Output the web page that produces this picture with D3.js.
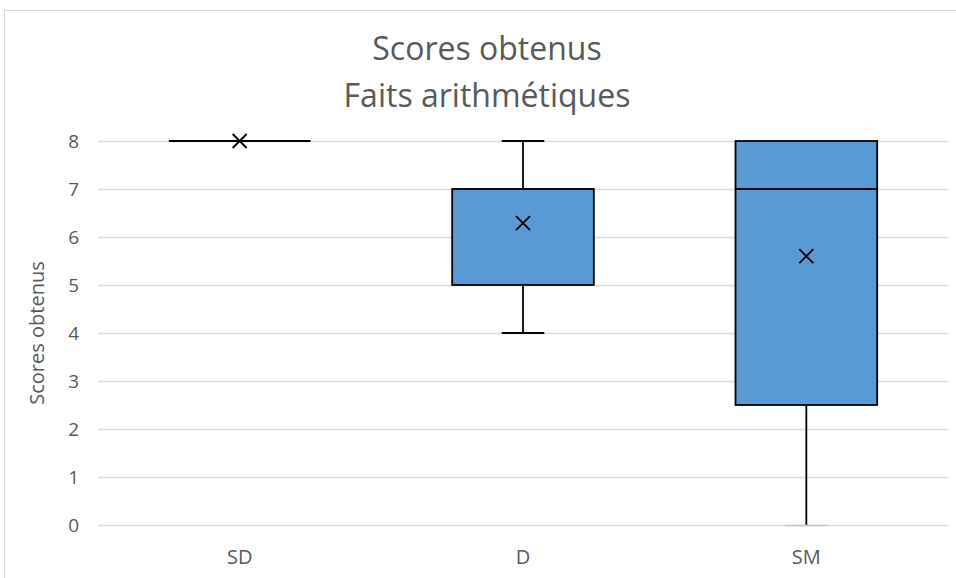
<!DOCTYPE html>
<html><head><meta charset="utf-8">
<script src="https://cdn.jsdelivr.net/npm/d3@7"></script>
<style>body{margin:0;background:#fff}svg{display:block}</style>
</head><body>
<script>
const categories = ["SD", "D", "SM"];
const minVals = [8, 4, 0];
const q1Vals = [8, 5, 2.5];
const medianVals = [8, 7, 7];
const q3Vals = [8, 7, 8];
const maxVals = [8, 8, 8];
const meanVals = [8, 6.29, 5.6];
const yTicks = [0, 1, 2, 3, 4, 5, 6, 7, 8];
const titleLines = ["Scores obtenus", "Faits arithmétiques"];
const yTitle = "Scores obtenus";

const W = 956, H = 578;
const svg = d3.select("body").append("svg").attr("width", W).attr("height", H);
const font = "'Open Sans', sans-serif";
const textCol = "#595959";

svg.append("rect").attr("x", 4.5).attr("y", 10.5).attr("width", 1000).attr("height", 600)
  .attr("fill", "#fff").attr("stroke", "#d9d9d9");

const x = d3.scaleBand().domain(categories).range([98, 948]);
const y = d3.scaleLinear().domain([0, 8]).range([525, 141]);

// gridlines
svg.append("g").selectAll("line").data(yTicks).join("line")
  .attr("x1", 98).attr("x2", 948)
  .attr("y1", d => y(d) + 0.5).attr("y2", d => y(d) + 0.5)
  .attr("stroke", "#d9d9d9").attr("stroke-width", 1.3);

// y axis labels
const yAxis = svg.append("g").attr("transform", "translate(98,0)")
  .call(d3.axisLeft(y).tickValues(yTicks).tickSize(0).tickPadding(19).tickFormat(d3.format("d")));
yAxis.select(".domain").remove();
yAxis.selectAll("text").attr("font-family", font).attr("font-size", 19).attr("fill", textCol);

// x axis labels
const xAxis = svg.append("g").attr("transform", "translate(0,525)")
  .call(d3.axisBottom(x).tickSize(0).tickPadding(25));
xAxis.select(".domain").remove();
xAxis.selectAll("text").attr("font-family", font).attr("font-size", 20).attr("fill", textCol);

// titles
svg.append("g").selectAll("text").data(titleLines).join("text")
  .attr("x", 487).attr("y", (d, i) => 60 + i * 47)
  .attr("text-anchor", "middle").attr("font-family", font).attr("font-size", 32)
  .attr("fill", textCol).text(d => d);

svg.append("text").attr("transform", "translate(44,333) rotate(-90)")
  .attr("text-anchor", "middle").attr("font-family", font).attr("font-size", 20)
  .attr("fill", textCol).text(yTitle);

// boxes
const bw = x.bandwidth();
const boxW = bw * 0.5, capW = bw * 0.15;
const sw = 1.8;
const data = categories.map((c, i) => ({c, min: minVals[i], q1: q1Vals[i], med: medianVals[i], q3: q3Vals[i], max: maxVals[i], mean: meanVals[i]}));
const g = svg.append("g").selectAll("g").data(data).join("g");
const cx = d => x(d.c) + bw / 2;

// whiskers
g.append("line").attr("x1", cx).attr("x2", cx).attr("y1", d => y(d.max)).attr("y2", d => y(d.q3))
  .attr("stroke", "#000").attr("stroke-width", sw);
g.append("line").attr("x1", cx).attr("x2", cx).attr("y1", d => y(d.q1)).attr("y2", d => y(d.min))
  .attr("stroke", "#000").attr("stroke-width", sw);
// caps
g.filter(d => d.max > d.q3).append("line").attr("x1", d => cx(d) - capW / 2).attr("x2", d => cx(d) + capW / 2)
  .attr("y1", d => y(d.max)).attr("y2", d => y(d.max)).attr("stroke", "#000").attr("stroke-width", sw);
g.filter(d => d.min < d.q1 && d.min > 0).append("line").attr("x1", d => cx(d) - capW / 2).attr("x2", d => cx(d) + capW / 2)
  .attr("y1", d => y(d.min)).attr("y2", d => y(d.min)).attr("stroke", "#000").attr("stroke-width", sw);
g.filter(d => d.min === 0 && d.min < d.q1).append("line").attr("x1", d => cx(d) - capW / 2).attr("x2", d => cx(d) + capW / 2)
  .attr("y1", d => y(d.min) + 0.5).attr("y2", d => y(d.min) + 0.5).attr("stroke", "#c8c8c8").attr("stroke-width", 1.5);
// box
g.append("rect").attr("x", d => cx(d) - boxW / 2).attr("width", boxW)
  .attr("y", d => y(d.q3)).attr("height", d => y(d.q1) - y(d.q3))
  .attr("fill", "#5B9BD5").attr("stroke", "#000").attr("stroke-width", sw);
// median
g.append("line").attr("x1", d => cx(d) - boxW / 2).attr("x2", d => cx(d) + boxW / 2)
  .attr("y1", d => y(d.med)).attr("y2", d => y(d.med)).attr("stroke", "#000").attr("stroke-width", sw);
// mean marker
const m = 7;
g.append("path").attr("d", d => {
  const px = cx(d), py = y(d.mean);
  return `M${px - m},${py - m}L${px + m},${py + m}M${px - m},${py + m}L${px + m},${py - m}`;
}).attr("stroke", "#000").attr("stroke-width", sw).attr("fill", "none");
</script>
</body></html>
